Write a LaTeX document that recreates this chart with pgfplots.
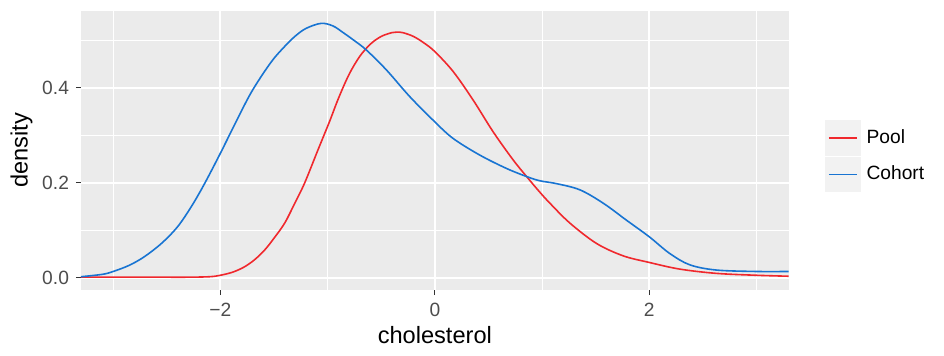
\documentclass[border=0pt]{standalone}
\usepackage{pgfplots}
\pgfplotsset{compat=1.18}
\usepackage{fontspec}
\setmainfont{Liberation Sans}
\definecolor{panel}{HTML}{EBEBEB}
\definecolor{legkey}{HTML}{F2F2F2}
\definecolor{poolred}{HTML}{F0282D}
\definecolor{cohortblue}{HTML}{1874D2}
\definecolor{tickgrey}{HTML}{4D4D4D}
\definecolor{tickmark}{HTML}{333333}
\begin{document}
\begin{tikzpicture}
\path[use as bounding box] (-40.5pt,-32.5pt) rectangle (431.5pt,145pt);
\begin{axis}[
  at={(0,0)}, anchor=south west,
  scale only axis, width=353.85pt, height=139.5pt,
  xmin=-3.30, xmax=3.30, ymin=-0.026, ymax=0.5615,
  axis background/.style={fill=panel},
  axis line style={draw=none},
  xtick={-2,0,2}, xticklabels={−2,0,2},
  ytick={0,0.2,0.4}, yticklabels={0.0,0.2,0.4},
  minor xtick={-3,-1,1,3}, minor ytick={0.1,0.3,0.5},
  grid=both,
  major grid style={white, line width=1pt},
  minor grid style={white, line width=0.5pt},
  xtick pos=left, ytick pos=left,
  tick align=outside,
  major tick length=2.5pt, minor tick length=0pt,
  tick style={tickmark, line width=0.6pt},
  ticklabel style={font=\fontsize{9.6}{11}\selectfont, text=tickgrey},
  xticklabel style={yshift=-0.3pt},
  xlabel={cholesterol}, ylabel={density},
  every axis x label/.style={at={(axis description cs:0.5,0)}, anchor=center, yshift=-22.5pt, font=\fontsize{11.8}{13}\selectfont},
  every axis y label/.style={at={([xshift=-29.7pt]axis description cs:0,0.5)}, anchor=center, rotate=90, font=\fontsize{11.8}{13}\selectfont},
  clip mode=individual,
  legend image code/.code={\fill[legkey] (0pt,-8.5pt) rectangle (17pt,8.5pt); \draw[#1, line width=0.8pt] (1.5pt,0pt) -- (15.5pt,0pt);},
  legend style={at={(rel axis cs:1.0513,0.609)}, anchor=north west, draw=none, fill=none, inner sep=0pt, outer sep=0pt,
    row sep=0.5pt, column sep=3pt, nodes={inner sep=0pt, font=\fontsize{9.6}{11}\selectfont}},
  legend cell align=left,
]
\addplot[poolred, line width=0.8pt, smooth, tension=0.55] coordinates {
(-3.30,0.001) (-2.60,0.001) (-2.30,0.001) (-2.10,0.002) (-2.00,0.005) (-1.88,0.012)
(-1.774,0.023) (-1.68,0.038) (-1.588,0.058) (-1.50,0.083) (-1.40,0.115) (-1.31,0.155)
(-1.215,0.199) (-1.09,0.269) (-0.98,0.330) (-0.90,0.377) (-0.80,0.428) (-0.70,0.466)
(-0.60,0.492) (-0.50,0.508) (-0.40,0.516) (-0.357,0.517) (-0.30,0.516) (-0.20,0.508)
(-0.10,0.494) (0,0.476) (0.171,0.434) (0.357,0.374)
(0.544,0.307) (0.730,0.248) (0.870,0.209) (0.979,0.180) (1.072,0.157) (1.259,0.115)
(1.508,0.072) (1.756,0.046) (2.0,0.032) (2.284,0.018) (2.626,0.009) (3.0,0.005) (3.30,0.003)
};
\addlegendentry{Pool}
\addplot[cohortblue, line width=0.8pt, smooth, tension=0.55] coordinates {
(-3.30,0.002) (-3.10,0.007) (-3.00,0.013) (-2.85,0.026) (-2.71,0.044) (-2.55,0.072)
(-2.40,0.107) (-2.27,0.150) (-2.15,0.197) (-2.00,0.262) (-1.87,0.321) (-1.71,0.391)
(-1.53,0.453) (-1.40,0.487) (-1.30,0.509) (-1.20,0.525) (-1.06,0.5355) (-0.95,0.530)
(-0.855,0.516) (-0.75,0.499) (-0.637,0.479) (-0.45,0.437) (-0.233,0.381) (0,0.328)
(0.171,0.293) (0.42,0.258) (0.668,0.230) (0.855,0.213) (0.979,0.204) (1.134,0.198)
(1.352,0.185) (1.569,0.157) (1.787,0.121) (2.0,0.086) (2.19,0.051) (2.378,0.027)
(2.626,0.016) (3.0,0.013) (3.30,0.013)
};
\addlegendentry{Cohort}
\end{axis}
\end{tikzpicture}
\end{document}
